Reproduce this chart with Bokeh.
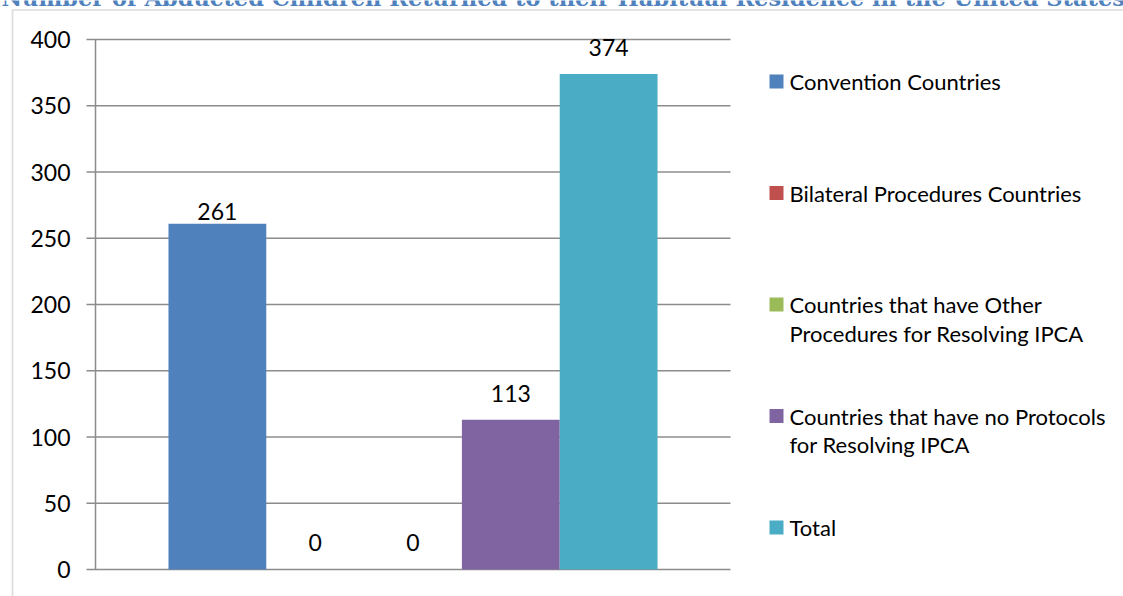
from bokeh.plotting import figure
from bokeh.models import Range1d, BoxAnnotation
from bokeh.core.properties import value
from bokeh.embed import file_html
from bokeh.resources import INLINE

# ---------------- data ----------------
title_text = "Number of Abducted Children Returned to their Habitual Residence in the United States"
series = ["Convention Countries",
          "Bilateral Procedures Countries",
          "Countries that have Other\nProcedures for Resolving IPCA",
          "Countries that have no Protocols\nfor Resolving IPCA",
          "Total"]
values = [261, 0, 0, 113, 374]
colors = ["#4F81BD", "#C0504D", "#9BBB59", "#8064A2", "#4BACC6"]
y_ticks = [0, 50, 100, 150, 200, 250, 300, 350, 400]

# ---------------- layout / style ----------------
W, H = 1123, 596
PL, PR, PT, PB = 95, 730, 39, 569          # plot area in page pixels
GAP = 0.746                                 # outer gap, in bar widths
FONT = "Lato"
FS_NUM = "23px"
FS_LEG = "22px"
GRAY = "#8c8c8c"
label_offsets = [-12, -27, -27, -26, -26]   # px from bar top to label centre
LEG_SQ_X, LEG_TX_X, LEG_Y0, LEG_DY, LEG_LH = 776, 789, 81, 111.5, 28.5

n = len(values)
x_lo, x_hi = -0.5 - GAP, n - 0.5 + GAP
y_lo, y_hi = y_ticks[0], y_ticks[-1]
ppx = (PR - PL) / (x_hi - x_lo)
ppy = (PB - PT) / (y_hi - y_lo)

def X(px):
    return x_lo + (px - PL) / ppx

def Y(py):
    return y_lo + (PB - py) / ppy

xr = Range1d(X(0), X(W))
yr = Range1d(Y(H), Y(0))

p = figure(width=W, height=H, x_range=xr, y_range=yr,
           x_axis_type=None, y_axis_type=None, min_border=0,
           output_backend="svg", toolbar_location=None)
p.outline_line_color = None
p.background_fill_color = "white"
p.border_fill_color = "white"
p.grid.visible = False

# gridlines (with outer tick marks) and value axis line
k = len(y_ticks)
p.segment(x0=[X(PL - 9)] * k, x1=[x_hi] * k, y0=y_ticks, y1=y_ticks,
          line_color=GRAY, line_width=1.5)
p.segment(x0=[x_lo], x1=[x_lo], y0=[y_lo], y1=[y_hi], line_color=GRAY, line_width=1.5)

# tick labels
p.text(x=[X(PL - 25)] * k, y=y_ticks, text=[str(t) for t in y_ticks],
       text_align="right", text_baseline="middle",
       text_font=value(FONT), text_font_size=FS_NUM, text_color="black")

# bars
xs = list(range(n))
p.vbar(x=xs, top=values, width=1.0, fill_color=colors, line_color=None)

# data labels
p.text(x=xs, y=values, text=[str(v) for v in values], y_offset=label_offsets,
       text_align="center", text_baseline="middle",
       text_font=value(FONT), text_font_size=FS_NUM, text_color="black")

# legend
sq_y, lx, ly, lt = [], [], [], []
for i, s in enumerate(series):
    c = LEG_Y0 + i * LEG_DY
    sq_y.append(Y(c))
    for j, line in enumerate(s.split("\n")):
        lx.append(X(LEG_TX_X))
        ly.append(Y(c + j * LEG_LH))
        lt.append(line)
p.rect(x=[X(LEG_SQ_X)] * n, y=sq_y, width=14, height=14,
       width_units="screen", height_units="screen",
       fill_color=colors, line_color=None)
p.text(x=lx, y=ly, text=lt, text_align="left", text_baseline="middle",
       text_font=value(FONT), text_font_size=FS_LEG, text_color="black")

# outer chart border (continues past the window)
p.add_layout(BoxAnnotation(left=X(12), right=X(W + 50), top=Y(9.5), bottom=Y(H + 50),
                           fill_alpha=0, line_color=GRAY, line_width=1.7))

# title (cut off at the top of the page)
p.text(x=[X(1)], y=[Y(-3)], text=[title_text], text_align="left",
       text_baseline="middle", text_font=value("DejaVu Serif"),
       text_font_style="bold", text_font_size="22.5px", text_color="#4F81BD")

open("out.html", "w").write(file_html(p, INLINE))
